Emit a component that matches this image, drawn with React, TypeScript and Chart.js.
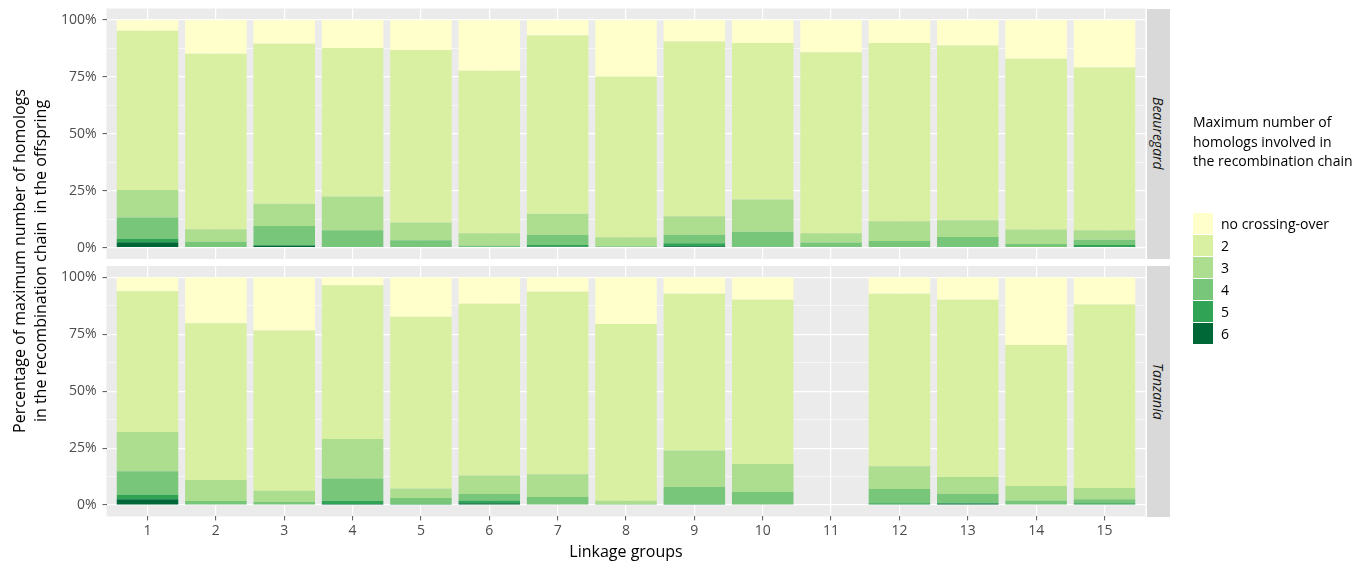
import React, { useEffect, useRef } from 'react';
import { Chart, registerables } from 'chart.js';

Chart.register(...registerables);

const FONT = "'Open Sans', 'Noto Sans', sans-serif";

// ---------- data ----------
const GROUPS = [1, 2, 3, 4, 5, 6, 7, 8, 9, 10, 11, 12, 13, 14, 15];
const SERIES_LABELS = ['no crossing-over', '2', '3', '4', '5', '6'];
const SERIES_COLORS = ['#FFFFCC', '#D9F0A3', '#ADDD8E', '#78C679', '#31A354', '#006837'];
const Y_MAJOR = [0, 25, 50, 75, 100];
const Y_MINOR = [12.5, 37.5, 62.5, 87.5];
const PANEL_NAMES = ['Beauregard', 'Tanzania'];
const X_TITLE = 'Linkage groups';
const Y_TITLE = ['Percentage of maximum number of homologs', 'in the recombination chain  in the offspring'];
const LEGEND_TITLE = ['Maximum number of', 'homologs involved in', 'the recombination chain'];

// Beauregard (percent per linkage group)
const BEAU_NC = [4.8, 14.9, 10.5, 12.3, 13.2, 22.3, 6.9, 24.9, 9.5, 10.2, 14.2, 10.2, 11.3, 17.1, 20.9];
const BEAU_2 = [69.9, 77.0, 70.2, 65.3, 75.8, 71.4, 78.2, 70.5, 76.7, 68.7, 79.5, 78.2, 76.7, 75.0, 71.5];
const BEAU_3 = [12.1, 5.5, 9.8, 14.8, 7.8, 5.4, 9.4, 4.0, 8.1, 14.1, 4.1, 8.7, 7.3, 6.3, 4.2];
const BEAU_4 = [9.4, 2.6, 8.3, 7.6, 3.2, 0.9, 4.3, 0.6, 3.8, 6.6, 2.2, 2.9, 4.7, 1.6, 2.2];
const BEAU_5 = [1.4, 0, 0.4, 0, 0, 0, 0.8, 0, 1.3, 0.4, 0, 0, 0, 0, 1.2];
const BEAU_6 = [2.4, 0, 0.8, 0, 0, 0, 0.4, 0, 0.6, 0, 0, 0, 0, 0, 0];

// Tanzania (group 11 has no data)
const TANZ_NC = [6.1, 20.2, 23.3, 3.5, 17.3, 11.6, 6.3, 20.5, 7.2, 9.8, null, 7.2, 9.8, 29.7, 11.9];
const TANZ_2 = [61.8, 68.8, 70.4, 67.5, 75.4, 75.4, 80.2, 77.6, 68.8, 72.2, null, 75.8, 77.9, 62.0, 80.6];
const TANZ_3 = [17.3, 9.2, 5.0, 17.3, 4.2, 8.2, 10.0, 1.5, 16.1, 12.3, null, 10.0, 7.3, 6.3, 5.0];
const TANZ_4 = [10.4, 1.8, 1.3, 9.8, 2.6, 2.8, 3.5, 0.4, 7.4, 5.7, null, 6.2, 4.0, 2.0, 1.7];
const TANZ_5 = [1.9, 0, 0, 1.4, 0.5, 1.2, 0, 0, 0.5, 0, null, 0.8, 0.4, 0, 0.8];
const TANZ_6 = [2.5, 0, 0, 0.5, 0, 0.8, 0, 0, 0, 0, null, 0, 0.6, 0, 0];

const BEAU = [BEAU_NC, BEAU_2, BEAU_3, BEAU_4, BEAU_5, BEAU_6];
const TANZ = [TANZ_NC, TANZ_2, TANZ_3, TANZ_4, TANZ_5, TANZ_6];

// ---------- layout ----------
const W = 1365;
const PANEL_LEFT = 106.5;
const PANEL_RIGHT = 1145.5;

const bgPlugin = {
  id: 'panelBg',
  beforeDraw(chart: any) {
    const { ctx, chartArea: a } = chart;
    ctx.save();
    ctx.fillStyle = '#EBEBEB';
    ctx.fillRect(a.left, a.top, a.right - a.left, a.bottom - a.top);
    ctx.restore();
  },
};

function buildConfig(values: (number | null)[][], showX: boolean, padTop: number, padBottom: number, xHeight: number): any {
  const order = [5, 4, 3, 2, 1, 0]; // stack from "6" at the bottom to "no crossing-over" on top
  const datasets = order.map((si) => ({
    label: SERIES_LABELS[si],
    data: GROUPS.map((g, gi) => ({ x: g, y: values[si][gi] })),
    backgroundColor: SERIES_COLORS[si],
    borderWidth: 0,
    barPercentage: 0.9,
    categoryPercentage: 1,
    stack: 'all',
  }));
  const isMajor = (v: number) => Y_MAJOR.includes(v);
  return {
    type: 'bar',
    data: { datasets },
    plugins: [bgPlugin],
    options: {
      animation: false,
      responsive: false,
      maintainAspectRatio: false,
      events: [],
      layout: { padding: { left: 0, right: W - PANEL_RIGHT, top: padTop, bottom: padBottom } },
      plugins: { legend: { display: false }, tooltip: { enabled: false }, title: { display: false } },
      scales: {
        x: {
          type: 'linear',
          min: 0.4,
          max: 15.6,
          stacked: true,
          offset: false,
          afterBuildTicks: (s: any) => {
            s.ticks = GROUPS.map((g) => ({ value: g }));
          },
          afterFit: (s: any) => {
            s.height = xHeight;
            s.paddingLeft = 0;
            s.paddingRight = 0;
            s.paddingTop = 0;
            s.paddingBottom = 0;
          },
          border: { display: false },
          grid: {
            offset: false,
            color: '#FFFFFF',
            lineWidth: 1.2,
            drawTicks: showX,
            tickLength: 4,
            tickColor: '#555555',
            tickWidth: 1,
          },
          ticks: {
            display: showX,
            autoSkip: false,
            maxRotation: 0,
            padding: 2,
            color: '#4D4D4D',
            font: { family: FONT, size: 14 },
            callback: (v: any) => String(v),
          },
          title: {
            display: showX,
            text: X_TITLE,
            color: '#000000',
            font: { family: FONT, size: 16 },
            padding: { top: 0, bottom: 0 },
          },
        },
        y: {
          type: 'linear',
          min: -5,
          max: 105,
          stacked: true,
          afterBuildTicks: (s: any) => {
            s.ticks = [...Y_MAJOR, ...Y_MINOR].sort((a, b) => a - b).map((v) => ({ value: v }));
          },
          afterFit: (s: any) => {
            s.width = PANEL_LEFT;
            s.paddingTop = 0;
            s.paddingBottom = 0;
            s.paddingLeft = 0;
            s.paddingRight = 0;
          },
          border: { display: false },
          grid: {
            color: '#FFFFFF',
            lineWidth: (c: any) => (c.tick && isMajor(c.tick.value) ? 1.2 : 0.6),
            drawTicks: true,
            tickLength: 4,
            tickWidth: 1,
            tickColor: (c: any) => (c.tick && isMajor(c.tick.value) ? '#555555' : 'rgba(0,0,0,0)'),
          },
          ticks: {
            autoSkip: false,
            padding: 6,
            color: '#4D4D4D',
            font: { family: FONT, size: 14 },
            callback: (v: any) => (isMajor(Number(v)) ? `${v}%` : ''),
          },
        },
      },
    },
  };
}

function Panel(props: { values: (number | null)[][]; top: number; height: number; padTop: number; padBottom: number; showX: boolean; xHeight: number }) {
  const ref = useRef<HTMLCanvasElement>(null);
  useEffect(() => {
    const chart = new Chart(ref.current as HTMLCanvasElement, buildConfig(props.values, props.showX, props.padTop, props.padBottom, props.xHeight));
    return () => chart.destroy();
  }, []);
  return (
    <canvas
      ref={ref}
      width={W}
      height={props.height}
      style={{ position: 'absolute', left: 0, top: props.top, width: W, height: props.height }}
    />
  );
}

function Strip(props: { label: string; top: number; height: number }) {
  return (
    <div
      style={{
        position: 'absolute',
        left: 1147,
        top: props.top,
        width: 23,
        height: props.height,
        background: '#D9D9D9',
        display: 'flex',
        alignItems: 'center',
        justifyContent: 'center',
      }}
    >
      <span style={{ writingMode: 'vertical-rl', fontFamily: FONT, fontStyle: 'italic', fontSize: 14, color: '#1A1A1A', lineHeight: '23px' }}>
        {props.label}
      </span>
    </div>
  );
}

export default function App() {
  useEffect(() => {
    document.body.style.margin = '0';
    document.body.style.overflow = 'hidden';
  }, []);
  Chart.defaults.font.family = FONT;
  return (
    <div style={{ position: 'fixed', left: 0, top: 0, width: W, height: 563, background: '#FFFFFF', overflow: 'hidden' }}>
      <Panel values={BEAU} top={0} height={262} padTop={8.5} padBottom={3} showX={false} xHeight={0} />
      <Panel values={TANZ} top={262} height={301} padTop={4} padBottom={1.4} showX={true} xHeight={45.2} />
      <Strip label={PANEL_NAMES[0]} top={8.5} height={250.5} />
      <Strip label={PANEL_NAMES[1]} top={266} height={250.5} />
      {/* y axis title */}
      <div
        style={{
          position: 'absolute',
          left: 30 - 240,
          top: 261 - 21,
          width: 480,
          height: 42,
          transform: 'rotate(-90deg)',
          textAlign: 'center',
          fontFamily: FONT,
          fontSize: 16,
          lineHeight: '21px',
          color: '#000000',
          whiteSpace: 'pre',
        }}
      >
        {Y_TITLE[0]}
        <br />
        {Y_TITLE[1]}
      </div>
      {/* legend */}
      <div style={{ position: 'absolute', left: 1193, top: 112, fontFamily: FONT, fontSize: 14, lineHeight: '19.5px', color: '#000000', whiteSpace: 'nowrap' }}>
        {LEGEND_TITLE.map((t, i) => (
          <div key={i}>{t}</div>
        ))}
      </div>
      {SERIES_LABELS.map((lab, i) => (
        <React.Fragment key={lab}>
          <div style={{ position: 'absolute', left: 1193, top: 212.5 + 22 * i, width: 20, height: 21, background: SERIES_COLORS[i] }} />
          <div
            style={{
              position: 'absolute',
              left: 1221,
              top: 212.5 + 22 * i,
              height: 22,
              lineHeight: '22px',
              fontFamily: FONT,
              fontSize: 14,
              color: '#000000',
              whiteSpace: 'nowrap',
            }}
          >
            {lab}
          </div>
        </React.Fragment>
      ))}
    </div>
  );
}
